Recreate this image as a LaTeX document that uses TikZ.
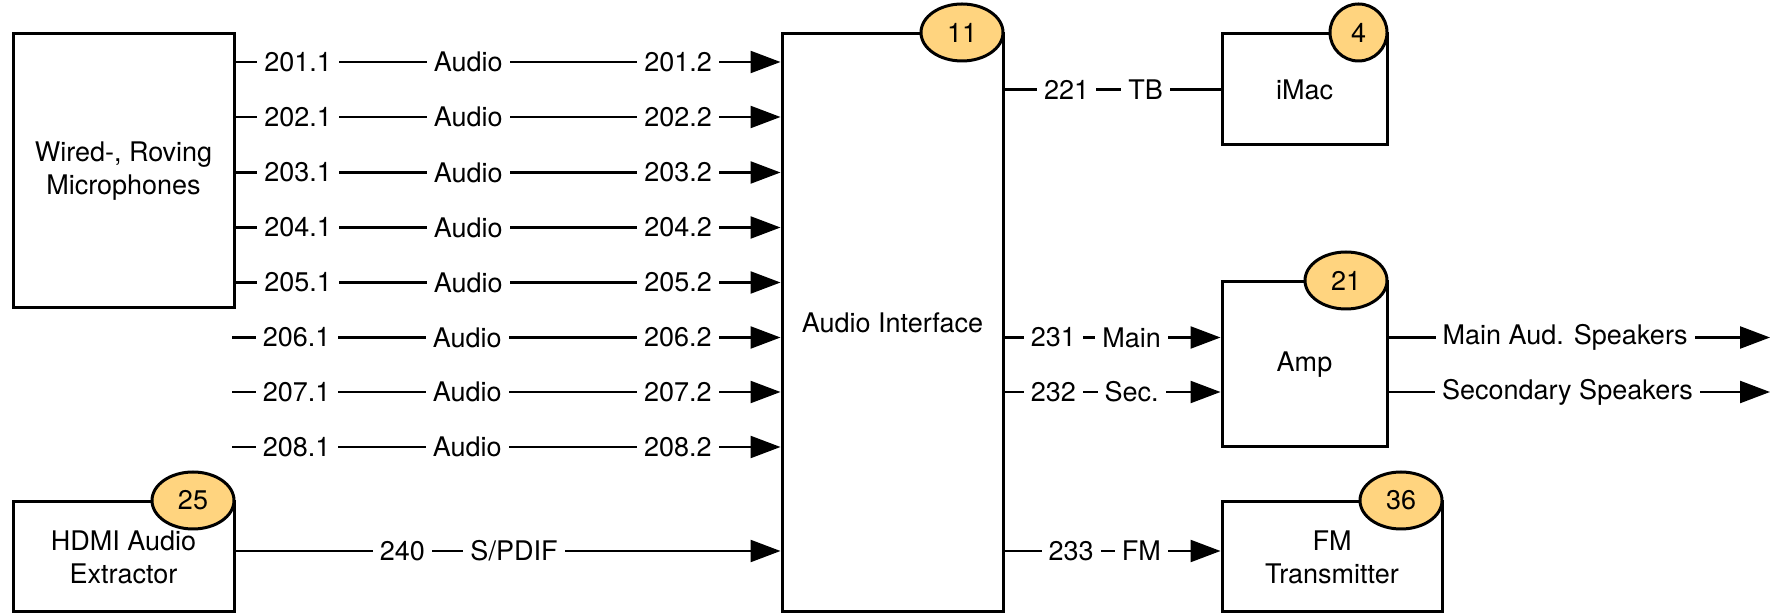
\documentclass[tikz,border=0pt]{standalone}
\usepackage{fontspec}
\setmainfont{TeX Gyre Heros}
\usetikzlibrary{arrows.meta,shapes.geometric}
\definecolor{badgefill}{RGB}{255,212,127}
\tikzset{
  box/.style={draw, line width=1.5pt, align=center, inner sep=0pt},
  badge/.style={ellipse, draw, line width=1.5pt, fill=badgefill, minimum width=41pt,
    minimum height=28.5pt, inner sep=0pt, anchor=east},
  conn/.style={line width=1.2pt},
  feed/.style={conn, -{Triangle[length=15pt,width=11pt]}},
  lbl/.style={fill=white, inner xsep=3.5pt, inner ysep=1pt},
}
\begin{document}
\begin{tikzpicture}[x=0.5pt, y=-0.5pt, font=\fontsize{13.5}{16.5}\selectfont]
  \useasboundingbox (0,0) rectangle (1776,613);

  % Devices
  \node[box, minimum width=110.5pt, minimum height=137pt] (mic) at (123.5,171) {Wired-, Roving\\Microphones};
  \node[box, minimum width=110.5pt, minimum height=55pt] (hdmi) at (123.5,557) {HDMI Audio\\Extractor};
  \node[box, minimum width=110.5pt, minimum height=289pt] (aif) at (892.5,323) {Audio Interface};
  \node[box, minimum width=82.5pt, minimum height=55.5pt] (imac) at (1304.5,89.5) {iMac};
  \node[box, minimum width=82.5pt, minimum height=82.5pt] (amp) at (1304.5,364.5) {Amp};
  \node[box, minimum width=110pt, minimum height=55pt] (fmtx) at (1332,557) {FM\\Transmitter};

  % Badges
  \node[badge] (b11) at (aif.north east) {11};
  \node[badge, minimum width=28.5pt] (b4) at (imac.north east) {4};
  \node[badge] (b21) at (amp.north east) {21};
  \node[badge] (b25) at (hdmi.north east) {25};
  \node[badge] (b36) at (fmtx.north east) {36};

  % Microphone lines
  \foreach \i/\y in {1/62,2/117,3/172.5,4/227.5,5/282.5}
    \draw[feed] (mic.east |- 0,\y) -- (aif.west |- 0,\y)
      node[lbl, pos=0.115] {20\i.1}
      node[lbl, pos=0.427] {Audio}
      node[lbl, pos=0.812] {20\i.2};
  \foreach \i/\y in {6/337.5,7/392,8/447} {
    \coordinate (in\i) at (232,\y);
    \draw[feed] (in\i) -- (aif.west |- in\i)
      node[lbl, pos=0.118] {20\i.1}
      node[lbl, pos=0.429] {Audio}
      node[lbl, pos=0.813] {20\i.2};
  }

  % HDMI
  \draw[feed] (hdmi.east |- 0,551) -- (aif.west |- 0,551)
    node[lbl, pos=0.306] {240}
    node[lbl, pos=0.511] {S/PDIF};

  % Outputs
  \draw[conn] (aif.east |- imac.west) -- (imac.west)
    node[lbl, pos=0.288] {221}
    node[lbl, pos=0.653] {TB};
  \draw[feed] (aif.east |- 0,337.5) -- (amp.west |- 0,337.5)
    node[lbl, pos=0.226] {231}
    node[lbl, pos=0.589] {Main};
  \draw[feed] (aif.east |- 0,392) -- (amp.west |- 0,392)
    node[lbl, pos=0.226] {232}
    node[lbl, pos=0.589] {Sec.};
  \draw[feed] (aif.east |- 0,551) -- (fmtx.west |- 0,551)
    node[lbl, pos=0.308] {233}
    node[lbl, pos=0.634] {FM};

  % Speakers
  \coordinate (spk1) at (1770,337.5);
  \coordinate (spk2) at (1770,392);
  \draw[feed] (amp.east |- spk1) -- (spk1)
    node[lbl, pos=0.463] {Main Aud. Speakers};
  \draw[feed] (amp.east |- spk2) -- (spk2)
    node[lbl, pos=0.469] {Secondary Speakers};
\end{tikzpicture}
\end{document}
